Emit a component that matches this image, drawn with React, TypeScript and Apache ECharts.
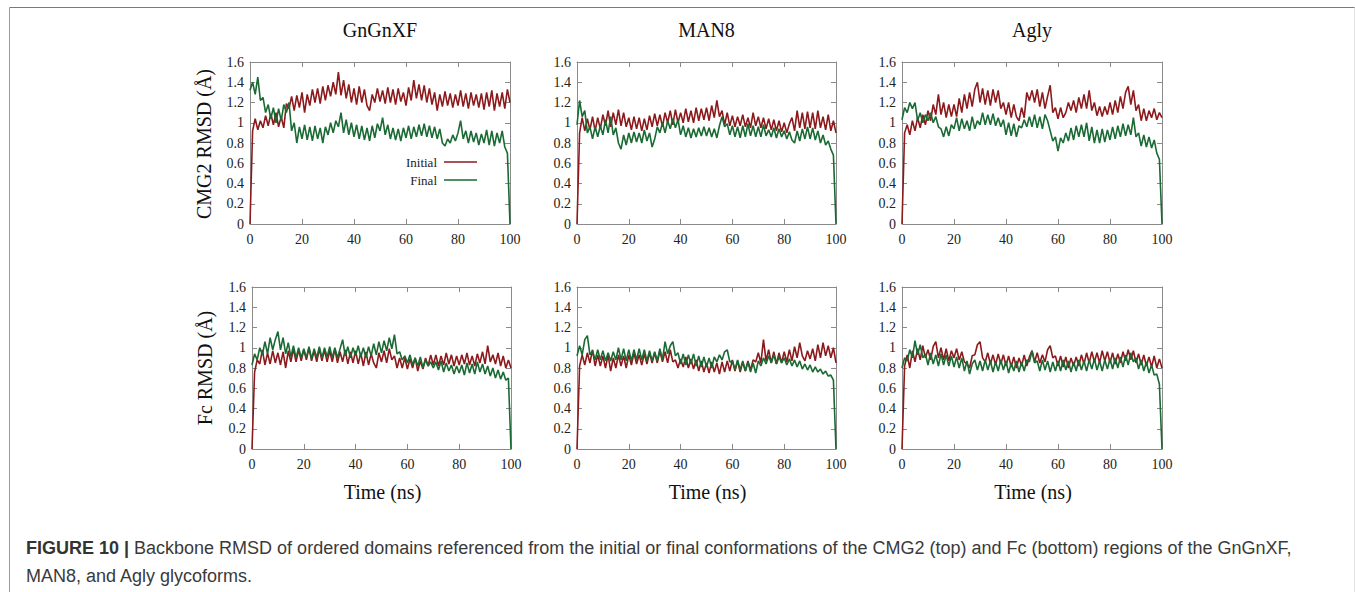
import React, { useEffect, useRef } from "react";
import * as echarts from "echarts";

// ---------- Data (RMSD in Å, sampled every 1 ns from 0 to 100 ns) ----------
const TIME_STEP_NS = 1;
const panelTitles = ["GnGnXF", "MAN8", "Agly"];
const rowLabels = ["CMG2 RMSD (Å)", "Fc RMSD (Å)"];
const xTickValues = [0, 20, 40, 60, 80, 100];
const yTickValues = [0, 0.2, 0.4, 0.6, 0.8, 1, 1.2, 1.4, 1.6];

const initialGnGnXFCmg2 = [
  0, 0.92, 1.04, 0.93, 1.02, 0.95, 1.07, 0.97, 1.09, 0.98, 1.1, 0.96, 1.06, 0.95, 1.19,
  1.14, 1.26, 1.12, 1.27, 1.15, 1.3, 1.1, 1.28, 1.17, 1.33, 1.2, 1.34, 1.19, 1.36, 1.22, 1.37,
  1.26, 1.4, 1.28, 1.5, 1.27, 1.42, 1.24, 1.38, 1.2, 1.34,
  1.18, 1.36, 1.2, 1.33, 1.17, 1.12, 1.28, 1.2, 1.34, 1.21,
  1.32, 1.19, 1.35, 1.2, 1.33, 1.18, 1.34, 1.21, 1.3, 1.17,
  1.35, 1.22, 1.42, 1.24, 1.38, 1.22, 1.37, 1.2, 1.34, 1.18,
  1.3, 1.12, 1.28, 1.16, 1.31, 1.17, 1.29, 1.15, 1.28, 1.17,
  1.32, 1.16, 1.29, 1.14, 1.3, 1.17, 1.28, 1.15, 1.29, 1.13,
  1.3, 1.16, 1.32, 1.12, 1.29, 1.16, 1.3, 1.14, 1.33, 1.2,
];
const finalGnGnXFCmg2 = [
  1.32, 1.4, 1.28, 1.45, 1.22, 1.25, 1.1, 1.18, 1.04, 1.15,
  1.0, 1.14, 1.02, 1.18, 1.1, 1.2, 0.92, 1.0, 0.8, 0.96,
  0.84, 0.98, 0.83, 0.96, 0.82, 0.97, 0.84, 0.95, 0.8, 0.96,
  0.88, 1.0, 0.9, 1.02, 0.96, 1.1, 0.9, 1.03, 0.88, 1.0,
  0.86, 0.98, 0.84, 0.97, 0.83, 0.95, 0.82, 0.97, 0.85, 0.99,
  0.92, 1.05, 0.88, 0.98, 0.84, 0.95, 0.83, 0.94, 0.82, 0.95,
  0.85, 0.97, 0.84, 0.96, 0.86, 0.98, 0.87, 0.99, 0.86, 0.97,
  0.85, 0.96, 0.84, 0.94, 0.8, 0.77, 0.84, 0.8, 0.88, 0.82,
  0.9, 1.02, 0.84, 0.92, 0.8, 0.92, 0.81, 0.9, 0.78, 0.89,
  0.8, 0.93, 0.78, 0.92, 0.77, 0.9, 0.8, 0.92, 0.76, 0.7, 0,
];
const initialMan8Cmg2 = [
  0, 0.9, 1.05, 0.92, 1.04, 0.93, 1.06, 0.92, 1.05, 0.94,
  1.08, 0.97, 1.12, 0.96, 1.1, 0.98, 1.13, 0.97, 1.1, 0.96,
  1.05, 0.93, 1.06, 0.94, 1.05, 0.92, 1.04, 0.93, 1.07, 0.96,
  1.09, 0.97, 1.08, 0.96, 1.1, 1.0, 1.12, 0.98, 1.13, 1.0,
  1.1, 1.0, 1.14, 1.01, 1.12, 1.0, 1.15, 1.02, 1.14, 1.03,
  1.15, 1.02, 1.17, 1.05, 1.22, 1.06, 1.12, 0.98, 1.1, 0.97,
  1.07, 0.96, 1.06, 0.97, 1.08, 0.96, 1.05, 0.95, 1.1, 0.97,
  1.06, 0.95, 1.05, 0.94, 1.04, 0.93, 1.03, 0.92, 1.02, 0.91,
  1.0, 0.9, 0.99, 1.05, 0.92, 1.12, 0.95, 1.1, 0.94, 1.11,
  0.95, 1.1, 0.94, 1.12, 0.95, 1.06, 0.93, 1.08, 0.92, 1.02, 0.9,
];
const finalMan8Cmg2 = [
  0.98, 1.22, 1.06, 1.12, 0.9, 0.96, 0.84, 0.96, 0.86, 0.97,
  0.88, 1.03, 0.9, 1.06, 0.88, 0.95, 0.8, 0.74, 0.88, 0.78,
  0.9, 0.8, 0.91, 0.81, 0.9, 0.8, 0.93, 0.82, 0.9, 0.76,
  0.84, 0.96, 0.9, 1.0, 0.9, 1.02, 0.94, 1.04, 0.95, 1.03,
  0.88, 0.97, 0.86, 0.95, 0.85, 0.94, 0.86, 0.95, 0.87, 0.96,
  0.87, 0.95, 0.86, 0.94, 0.85, 0.97, 1.06, 0.96, 0.99, 0.88,
  0.97, 0.86, 0.96, 0.85, 0.97, 0.86, 0.99, 0.87, 0.97, 0.86,
  0.96, 0.86, 0.98, 0.87, 0.93, 0.86, 0.95, 0.85, 0.94, 0.86,
  0.92, 0.84, 0.91, 0.83, 0.8, 0.92, 0.82, 0.94, 0.84, 0.96,
  0.84, 0.95, 0.83, 0.92, 0.8, 0.88, 0.78, 0.82, 0.74, 0.68, 0,
];
const initialAglyCmg2 = [
  0, 0.9, 0.98, 0.88, 1.02, 0.92, 1.05, 0.95, 1.08, 0.98,
  1.12, 1.02, 1.18, 1.08, 1.28, 1.08, 1.2, 1.05, 1.18, 1.06,
  1.18, 1.06, 1.24, 1.1, 1.28, 1.14, 1.3, 1.16, 1.33, 1.4,
  1.2, 1.34, 1.18, 1.32, 1.17, 1.33, 1.2, 1.32, 1.14, 1.2,
  1.08, 1.2, 1.05, 1.18, 1.06, 1.02, 1.15, 1.05, 1.3, 1.22,
  1.32, 1.2, 1.33, 1.16, 1.3, 1.14, 1.26, 1.37, 1.1, 1.15,
  1.04, 1.15, 1.05, 1.1, 1.2, 1.12, 1.22, 1.1, 1.25, 1.14,
  1.28, 1.14, 1.32, 1.12, 1.2, 1.07, 1.16, 1.06, 1.16, 1.08,
  1.2, 1.08, 1.22, 1.1, 1.26, 1.14, 1.3, 1.36, 1.18, 1.32,
  1.12, 1.18, 1.02, 1.14, 1.02, 1.12, 1.05, 1.14, 1.03, 1.1, 1.05,
];
const finalAglyCmg2 = [
  1.03, 1.15, 1.1, 1.2, 1.14, 1.2, 1.02, 1.1, 1.0, 1.08,
  1.02, 1.1, 1.0, 1.06, 0.96, 0.94, 0.86, 0.96, 0.87, 0.98,
  0.94, 1.05, 0.92, 1.04, 0.94, 1.02, 0.92, 1.06, 0.94, 1.02,
  0.98, 1.1, 0.98, 1.08, 0.98, 1.09, 0.97, 1.05, 0.96, 1.03,
  0.88, 1.0, 0.87, 0.99, 0.86, 0.97, 0.95, 1.03, 0.96, 1.06,
  0.96, 1.08, 0.95, 1.06, 0.94, 1.08, 1.02, 0.92, 0.82, 0.86,
  0.72, 0.85, 0.8, 0.9, 0.82, 0.95, 0.83, 0.97, 0.86, 0.98,
  0.86, 1.0, 0.82, 0.96, 0.8, 0.93, 0.8, 0.94, 0.81, 0.93,
  0.83, 0.96, 0.84, 0.97, 0.86, 0.99, 0.87, 0.98, 0.88, 1.05,
  0.86, 0.9, 0.77, 0.88, 0.76, 0.86, 0.75, 0.83, 0.7, 0.64, 0,
];
const initialGnGnXFFc = [
  0, 0.76, 0.88, 0.84, 0.98, 0.83, 0.95, 0.84, 0.97, 0.85,
  0.95, 0.83, 0.96, 0.8, 0.97, 0.86, 0.99, 0.86, 0.98, 0.87,
  0.98, 0.88, 1.0, 0.87, 0.97, 0.86, 0.99, 0.87, 0.98, 0.86,
  0.97, 0.86, 0.99, 0.85, 0.96, 0.86, 0.98, 0.84, 0.96, 0.85,
  0.97, 0.84, 0.95, 0.82, 0.96, 0.83, 0.94, 0.85, 0.8, 0.95,
  0.86, 0.97, 0.85, 0.99, 0.88, 0.92, 0.8, 0.9, 0.8, 0.9,
  0.79, 0.89, 0.8, 0.9, 0.77, 0.87, 0.79, 0.9, 0.82, 0.93,
  0.83, 0.93, 0.82, 0.92, 0.83, 0.95, 0.84, 0.93, 0.82, 0.92,
  0.83, 0.93, 0.84, 0.95, 0.83, 0.92, 0.82, 0.94, 0.85, 0.96,
  0.84, 1.02, 0.86, 0.93, 0.84, 0.95, 0.82, 0.92, 0.8, 0.88, 0.8,
];
const finalGnGnXFFc = [
  0.83, 0.94, 0.88, 1.0, 0.93, 1.06, 0.94, 1.1, 0.98, 1.08,
  1.16, 0.98, 1.1, 0.94, 1.05, 0.91, 1.02, 0.9, 1.0, 0.9,
  0.99, 0.9, 1.01, 0.89, 0.99, 0.9, 1.01, 0.9, 1.0, 0.91,
  1.01, 0.9, 1.0, 0.9, 0.99, 1.08, 0.92, 1.01, 0.9, 1.0,
  0.92, 1.02, 0.91, 1.0, 0.9, 1.01, 0.92, 1.04, 0.93, 1.06,
  0.95, 1.07, 0.97, 1.1, 0.99, 1.13, 0.94, 0.96, 0.88, 0.92,
  0.85, 0.93, 0.83, 0.9, 0.82, 0.91, 0.8, 0.88, 0.82, 0.86,
  0.8, 0.86, 0.78, 0.87, 0.76, 0.85, 0.77, 0.83, 0.74, 0.82,
  0.75, 0.83, 0.73, 0.85, 0.75, 0.84, 0.74, 0.86, 0.76, 0.84,
  0.74, 0.82, 0.72, 0.8, 0.7, 0.78, 0.69, 0.76, 0.68, 0.7, 0,
];
const initialMan8Fc = [
  0, 0.82, 0.93, 0.83, 0.95, 0.85, 0.98, 0.82, 0.93, 0.82,
  0.92, 0.8, 0.93, 0.77, 0.9, 0.8, 0.93, 0.82, 0.92, 0.8,
  0.93, 0.83, 0.95, 0.84, 0.93, 0.83, 0.94, 0.84, 0.95, 0.85,
  0.95, 0.85, 0.97, 0.86, 0.96, 0.85, 0.98, 0.86, 0.88, 0.8,
  0.89, 0.81, 0.91, 0.8, 0.89, 0.79, 0.88, 0.77, 0.87, 0.76,
  0.85, 0.75, 0.86, 0.76, 0.85, 0.74, 0.86, 0.76, 0.87, 0.77,
  0.88, 0.77, 0.87, 0.76, 0.86, 0.77, 0.87, 0.78, 0.88, 0.86,
  0.95, 0.85, 1.08, 0.87, 0.98, 0.85, 0.96, 0.84, 0.95, 0.85,
  0.96, 0.86, 0.98, 0.87, 1.01, 0.9, 1.05, 0.92, 0.87, 0.97,
  0.89, 0.99, 0.87, 1.03, 0.9, 1.05, 0.92, 1.02, 0.9, 1.0, 0.85,
];
const finalMan8Fc = [
  0.92, 1.02, 0.93, 1.08, 1.12, 0.93, 0.97, 0.88, 0.98, 0.88,
  0.97, 0.87, 0.95, 0.87, 0.96, 0.88, 1.0, 0.88, 0.99, 0.87,
  0.98, 0.87, 0.98, 0.88, 0.99, 0.88, 0.98, 0.87, 0.97, 0.87,
  0.96, 0.87, 0.99, 0.88, 1.06, 0.94, 1.02, 1.06, 0.92, 0.95,
  0.84, 0.94, 0.83, 0.93, 0.84, 0.94, 0.82, 0.92, 0.81, 0.91,
  0.81, 0.9, 0.8, 0.91, 0.86, 0.93, 0.88, 0.96, 0.98, 0.86,
  0.87, 0.78, 0.88, 0.78, 0.87, 0.77, 0.86, 0.76, 0.85, 0.75,
  0.87, 0.82, 0.9, 0.84, 0.92, 0.85, 0.93, 0.84, 0.91, 0.85,
  0.9, 0.83, 0.89, 0.82, 0.88, 0.81, 0.87, 0.79, 0.84, 0.78,
  0.83, 0.76, 0.81, 0.76, 0.79, 0.74, 0.77, 0.72, 0.73, 0.68, 0,
];
const initialAglyFc = [
  0, 0.82, 0.93, 0.8, 0.97, 0.86, 0.99, 0.88, 1.02, 0.9,
  0.98, 0.88, 1.01, 1.06, 0.9, 1.0, 0.88, 0.99, 0.87, 0.97,
  0.9, 0.99, 0.88, 0.96, 0.86, 0.84, 0.8, 0.92, 0.93, 1.03,
  1.06, 0.9, 0.86, 0.95, 0.84, 0.93, 0.83, 0.94, 0.84, 0.93,
  0.82, 0.92, 0.81, 0.91, 0.8, 0.9, 0.82, 0.93, 0.82, 0.91,
  0.97, 0.86, 0.95, 0.85, 0.93, 0.86, 0.98, 1.02, 0.9, 0.92,
  0.82, 0.92, 0.81, 0.91, 0.8, 0.9, 0.82, 0.91, 0.82, 0.93,
  0.84, 0.95, 0.85, 0.96, 0.86, 0.95, 0.85, 0.97, 0.87, 0.96,
  0.85, 0.95, 0.84, 0.94, 0.85, 0.96, 0.87, 0.98, 0.88, 0.97,
  0.85, 0.94, 0.83, 0.93, 0.82, 0.91, 0.81, 0.92, 0.8, 0.89, 0.8,
];
const finalAglyFc = [
  0.8, 0.9, 0.87, 0.98, 0.9, 1.07, 0.93, 1.03, 0.9, 0.94,
  0.83, 0.95, 0.84, 0.93, 0.82, 0.94, 0.83, 0.93, 0.82, 0.92,
  0.81, 0.91, 0.8, 0.9, 0.77, 0.87, 0.74, 0.84, 0.88, 0.78,
  0.87, 0.77, 0.88, 0.78, 0.87, 0.76, 0.86, 0.77, 0.88, 0.78,
  0.87, 0.75, 0.85, 0.77, 0.87, 0.76, 0.86, 0.77, 0.88, 0.86,
  0.97, 0.85, 0.87, 0.77, 0.88, 0.78, 0.87, 0.76, 0.86, 0.77,
  0.87, 0.77, 0.88, 0.78, 0.87, 0.76, 0.86, 0.77, 0.88, 0.78,
  0.87, 0.77, 0.88, 0.79, 0.89, 0.78, 0.87, 0.77, 0.88, 0.79,
  0.89, 0.79, 0.9, 0.8, 0.91, 0.81, 0.93, 0.83, 0.95, 0.86,
  0.9, 0.79, 0.88, 0.77, 0.86, 0.75, 0.83, 0.73, 0.74, 0.64, 0,
];

const panelSeries = [
  [initialGnGnXFCmg2, finalGnGnXFCmg2],
  [initialMan8Cmg2, finalMan8Cmg2],
  [initialAglyCmg2, finalAglyCmg2],
  [initialGnGnXFFc, finalGnGnXFFc],
  [initialMan8Fc, finalMan8Fc],
  [initialAglyFc, finalAglyFc],
];
const seriesNames = ["Initial", "Final"];

// ---------- Styles / layout ----------
const SERIF = "'Liberation Serif', 'Times New Roman', serif";
const SANS = "'Liberation Sans', Arial, Helvetica, sans-serif";
const COLORS = ["#8c1a1c", "#1a6a33"];
const FRAME = "#8a8a8a";
const GRIDS = [
  { left: 250, top: 62, width: 260, height: 162 },
  { left: 577, top: 62, width: 259, height: 162 },
  { left: 902, top: 62, width: 260, height: 162 },
  { left: 252, top: 287, width: 259, height: 162 },
  { left: 577, top: 287, width: 259, height: 162 },
  { left: 902, top: 287, width: 260, height: 162 },
];

function buildOption() {
  const xAxis: any[] = [];
  const yAxis: any[] = [];
  const series: any[] = [];
  GRIDS.forEach((_, g) => {
    const common = {
      gridIndex: g,
      type: "value",
      axisLine: { show: true, onZero: false, lineStyle: { color: FRAME, width: 1 } },
      axisTick: { show: true, inside: true, length: 5, lineStyle: { color: FRAME } },
      splitLine: { show: false },
    };
    xAxis.push({
      ...common,
      position: "bottom",
      min: xTickValues[0],
      max: xTickValues[xTickValues.length - 1],
      interval: 20,
      axisLabel: { color: "#222", fontFamily: SERIF, fontSize: 14, margin: 8 },
    });
    xAxis.push({
      ...common,
      position: "top",
      min: 0,
      max: 100,
      interval: 20,
      axisLabel: { show: false },
    });
    yAxis.push({
      ...common,
      position: "left",
      min: yTickValues[0],
      max: yTickValues[yTickValues.length - 1],
      interval: 0.2,
      axisLabel: { color: "#222", fontFamily: SERIF, fontSize: 14, margin: 6 },
    });
    yAxis.push({
      ...common,
      position: "right",
      min: 0,
      max: 1.6,
      interval: 0.2,
      axisLabel: { show: false },
    });
    panelSeries[g].forEach((vals, k) => {
      series.push({
        type: "line",
        name: seriesNames[k],
        xAxisIndex: 2 * g,
        yAxisIndex: 2 * g,
        data: vals.map((v, i) => [i * TIME_STEP_NS, v]),
        symbol: "none",
        showSymbol: false,
        lineStyle: { color: COLORS[k], width: 1.6 },
        itemStyle: { color: COLORS[k] },
        silent: true,
        z: 2 + k,
      });
    });
  });

  const txt = (text: string, x: number, y: number, extra: any = {}) => ({
    type: "text",
    x,
    y,
    silent: true,
    ...extra,
    style: {
      text,
      fontFamily: SERIF,
      fontSize: 20,
      fill: "#111",
      align: "center",
      verticalAlign: "middle",
      ...(extra.style || {}),
    },
  });

  const graphic: any[] = [
    { type: "line", silent: true, shape: { x1: 9.5, y1: 7.5, x2: 1355, y2: 7.5 }, style: { stroke: "#7a7a7a", lineWidth: 1 } },
    { type: "line", silent: true, shape: { x1: 9.5, y1: 7.5, x2: 9.5, y2: 592 }, style: { stroke: "#9a9a9a", lineWidth: 1 } },
    { type: "line", silent: true, shape: { x1: 1354.5, y1: 7.5, x2: 1354.5, y2: 592 }, style: { stroke: "#e2e2e2", lineWidth: 1 } },
  ];
  [0, 1, 2].forEach((c) => {
    const gr = GRIDS[c];
    graphic.push(txt(panelTitles[c], gr.left + gr.width / 2, 30));
    const gb = GRIDS[c + 3];
    graphic.push(txt("Time (ns)", gb.left + gb.width / 2 + 1, 492));
  });
  graphic.push(txt(rowLabels[0], 204, 144, { rotation: Math.PI / 2 }));
  graphic.push(txt(rowLabels[1], 205, 368, { rotation: Math.PI / 2 }));
  [0, 1].forEach((k) => {
    const y = 162 + k * 18;
    graphic.push(
      txt(seriesNames[k], 437, y, { style: { fontSize: 13, align: "right", fill: "#222" } })
    );
    graphic.push({
      type: "line",
      silent: true,
      shape: { x1: 444, y1: y, x2: 477, y2: y },
      style: { stroke: COLORS[k], lineWidth: 1.5 },
    });
  });
  graphic.push({
    type: "text",
    x: 26,
    y: 548,
    silent: true,
    style: {
      text:
        "{b|FIGURE 10 |} Backbone RMSD of ordered domains referenced from the initial or final conformations of the CMG2 (top) and Fc (bottom) regions of the GnGnXF,",
      fontFamily: SANS,
      fontSize: 18,
      fill: "#3a3a3a",
      align: "left",
      verticalAlign: "middle",
      rich: { b: { fontFamily: SANS, fontSize: 18, fontWeight: "bold", fill: "#333" } },
    },
  });
  graphic.push({
    type: "text",
    x: 26,
    y: 576,
    silent: true,
    style: {
      text: "MAN8, and Agly glycoforms.",
      fontFamily: SANS,
      fontSize: 18,
      fill: "#3a3a3a",
      align: "left",
      verticalAlign: "middle",
    },
  });

  return {
    animation: false,
    backgroundColor: "#ffffff",
    grid: GRIDS.map((g) => ({ ...g, containLabel: false })),
    xAxis,
    yAxis,
    series,
    graphic,
  };
}

export default function App() {
  const ref = useRef<HTMLDivElement>(null);
  useEffect(() => {
    if (!ref.current) return;
    const chart = echarts.init(ref.current, null, { renderer: "svg" });
    chart.setOption(buildOption() as any);
    return () => chart.dispose();
  }, []);
  return (
    <div
      ref={ref}
      style={{ position: "absolute", left: 0, top: 0, width: 1355, height: 592, background: "#fff" }}
    />
  );
}
